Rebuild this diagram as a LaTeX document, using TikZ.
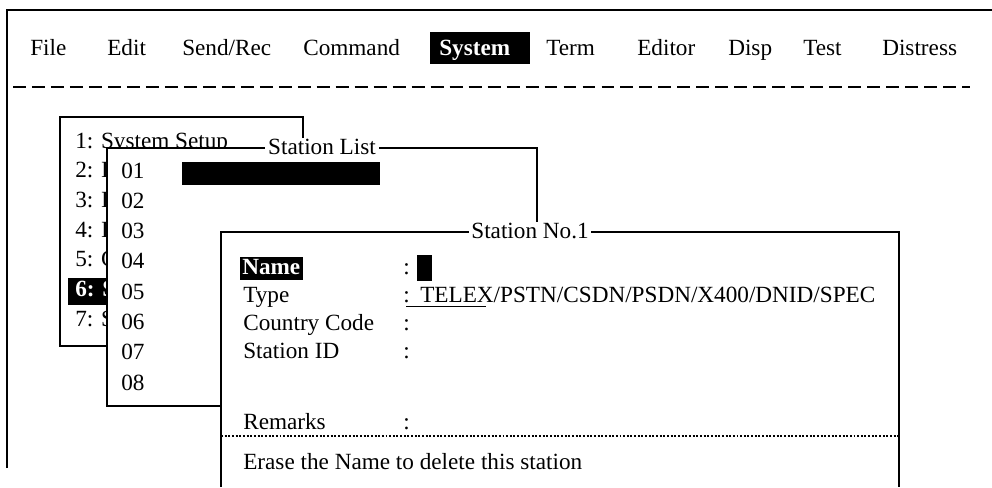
\documentclass[tikz,border=0pt]{standalone}
\usepackage{fontspec}
\setmainfont{Liberation Serif}
\newcommand{\scr}{\fontsize{16.5}{19}\selectfont}
\tikzset{
  txt/.style={font=\scr,inner sep=0pt,anchor=base west,text=black},
  hitxt/.style={txt,font=\scr\bfseries,text=white},
  hilite/.style={fill=black,draw=none},
  panel/.style={draw=black,fill=white,line width=0.9pt},
  paneltitle/.style={font=\scr,fill=white,inner xsep=2pt,inner ysep=1pt},
  rule/.style={line width=0.9pt},
  menudash/.style={line width=0.9pt,dash pattern=on 9.2pt off 4.3pt},
  dotrule/.style={line width=0.8pt,dash pattern=on 1.4pt off 1.2pt}
}
\begin{document}
\begin{tikzpicture}[x=0.025cm,y=-0.025cm]
  \useasboundingbox (0,0) rectangle (992,487);
  % screen frame and menu bar
  \draw[rule] (7,468) -- (7,10) -- (992,10);
  \foreach \x/\lbl/\nm in {30/File/file,107/Edit/edit,182/{Send/Rec}/sendrec,
      303/Command/command,546/Term/term,637/Editor/editor,728/Disp/disp,
      803/Test/test,882/Distress/distress}
    \node[txt] (\nm) at (\x,55) {\lbl};
  \fill[hilite] (430,32) rectangle (530,64);
  \node[hitxt] (system) at (439,55) {System};
  \draw[menudash] (13,87) -- (970,87);
  % system menu
  \draw[panel] (60,117) rectangle (303,346);
  \fill[hilite] (68,278) rectangle (150,305);
  \node[txt] (m1) at (75,148) {1: System Setup};
  \foreach \i/\c in {2/I,3/I,4/I,5/C,7/S}
    \node[txt] (m\i) at (75,{148+29.7*(\i-1)}) {\i: \c};
  \node[hitxt] (m6) at (75,296.5) {6: S};
  % station list
  \draw[panel] (107,148) rectangle (537,406);
  \node[paneltitle] (listtitle) at (322,147) {Station List};
  \fill[hilite] (182,162) rectangle (380,185);
  \foreach \i in {1,...,8}
    \node[txt] (s\i) at (121,{178+30.3*(\i-1)}) {0\i};
  % station no.1
  \fill[white] (221,232) rectangle (899,487);
  \draw[rule] (221,487) -- (221,232) -- (899,232) -- (899,487);
  \node[paneltitle] (stntitle) at (530,231) {Station No.1};
  \fill[hilite] (240,257) rectangle (303,280);
  \node[hitxt] (name) at (242,274) {Name};
  \node[txt] (type) at (243,302) {Type};
  \node[txt] (country) at (243,330) {Country Code};
  \node[txt] (stnid) at (243,358) {Station ID};
  \node[txt] (remarks) at (243,429) {Remarks};
  \foreach \y/\nm in {274/cname,302/ctype,330/ccountry,358/cstnid,429/cremarks}
    \node[txt] (\nm) at (403,\y) {:};
  \fill[hilite] (417,255) rectangle (432,281);
  \node[txt] (types) at (420,302) {TELEX/PSTN/CSDN/PSDN/X400/DNID/SPEC};
  \draw[line width=0.7pt] (406,306) -- (486,306);
  \draw[dotrule] (221,436) -- (899,436);
  \node[txt] (erase) at (243,469) {Erase the Name to delete this station};
\end{tikzpicture}
\end{document}
